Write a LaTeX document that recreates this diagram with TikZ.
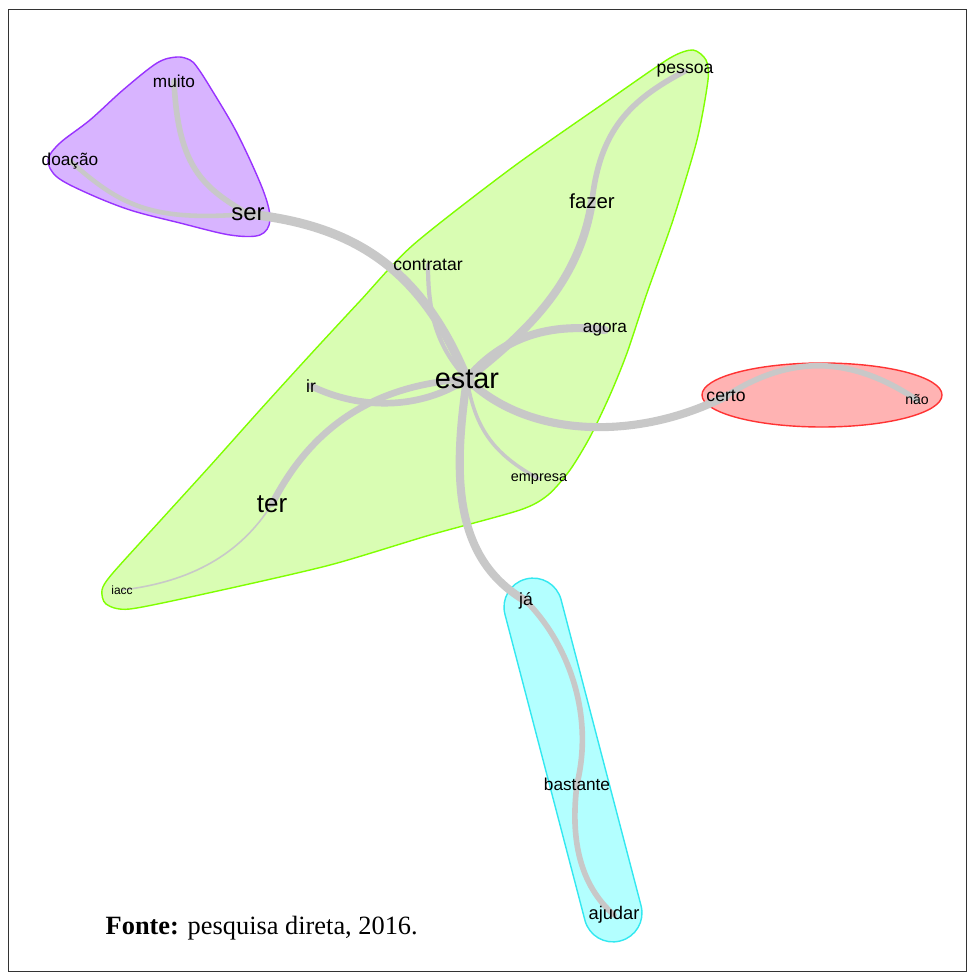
\documentclass[tikz,border=0pt]{standalone}
\usepackage{fontspec}
\setmainfont{Liberation Sans}
\newfontfamily\capfont{Liberation Serif}
\usepackage{tikz}
\usetikzlibrary{calc}
\pgfdeclarelayer{hulls}
\pgfdeclarelayer{links}
\pgfsetlayers{hulls,links,main}
\definecolor{linkgray}{HTML}{C8C8C8}
\definecolor{purplefill}{HTML}{D8B4FF}
\definecolor{purpleline}{HTML}{9933FF}
\definecolor{greenfill}{HTML}{D9FDB3}
\definecolor{greenline}{HTML}{80FF00}
\definecolor{redfill}{HTML}{FFB3B3}
\definecolor{redline}{HTML}{FF3333}
\definecolor{cyanfill}{HTML}{B3FFFF}
\definecolor{cyanline}{HTML}{33E8F0}

\begin{document}
\begin{tikzpicture}[x=0.01cm, y=-0.01cm,
        word/.style={inner sep=0pt, font=\fontsize{#1}{#1}\selectfont},
        link/.style={draw=linkgray, line width=#1, line cap=round},
        hull/.style={fill=#1fill, draw=#1line, line width=0.4pt}]
        \useasboundingbox (0,0) rectangle (968,973);
        \draw[line width=0.4pt, black!80] (8.5,9.5) rectangle (966.5,971.5);

        \node[word=4.9] (muito) at (174,81) {muito};
        \node[word=4.9] (doacao) at (70,161) {doação};
        \node[word=6.8] (ser) at (248,214) {ser};
        \node[word=5] (contratar) at (428,265) {contratar};
        \node[word=5] (pessoa) at (685,71) {pessoa};
        \node[word=5.8] (fazer) at (592,201) {fazer};
        \node[word=4.9] (agora) at (605,330) {agora};
        \node[word=8.2] (estar) at (467,379) {estar};
        \node[word=5] (ir) at (311,386) {ir};
        \node[word=5] (certo) at (726,396) {certo};
        \node[word=4] (nao) at (917,400) {não};
        \node[word=4.1] (empresa) at (539,479) {empresa};
        \node[word=7.4] (ter) at (272,504) {ter};
        \node[word=3.4] (iacc) at (122,590) {iacc};
        \node[word=5] (ja) at (526,601) {já};
        \node[word=4.9] (bastante) at (577,784) {bastante};
        \node[word=5.2] (ajudar) at (614,915) {ajudar};
        \node[anchor=west, inner sep=0pt, font=\capfont\fontsize{7.5}{9}\selectfont] (fonte) at (105,928) {\textbf{Fonte:} pesquisa direta, 2016.};

        \begin{pgfonlayer}{hulls}
        \draw[hull=purple] plot[smooth cycle, tension=0.55] coordinates {(190,60) (177,57) (157,63) (123,90) (90,120) (60,143) (48,160) (57,177) (87,193) (130,210) (180,223) (230,235) (260,235) (270,220) (263,190) (237,133) (210,87) (197,67)};
        \draw[hull=green] plot[smooth cycle, tension=0.45] coordinates {(670,58) (693,50) (706,60) (708,80) (697,140) (673,220) (647,293) (627,353) (610,395) (590,437) (570,470) (548,495) (520,510) (430,535) (330,565) (213,592) (130,609) (106,604) (102,590) (112,574) (160,521) (210,466) (260,410) (310,355) (360,301) (413,245) (513,167) (613,97)};
        \draw[hull=red] (822,395) ellipse [x radius=120, y radius=32];
        \begin{scope}[shift={(573,760)}, rotate=14.65]
                \draw[hull=cyan, rounded corners=8.2pt] (-29,-187) rectangle (29,187);
        \end{scope}
        \end{pgfonlayer}

        \begin{pgfonlayer}{links}
        \draw[link=1.6pt] (muito.center) .. controls (178,170) and (205,188) .. (ser.center);
        \draw[link=1.3pt] (doacao.center) .. controls (120,205) and (150,222) .. (ser.center);
        \draw[link=2.6pt] (ser.center) .. controls (350,225) and (420,265) .. (estar.center);
        \draw[link=1.2pt] (contratar.center) .. controls (428,310) and (435,345) .. (estar.center);
        \draw[link=1.6pt] (pessoa.center) .. controls (630,100) and (600,130) .. (fazer.center);
        \draw[link=2.3pt] (fazer.center) .. controls (580,280) and (530,330) .. (estar.center);
        \draw[link=2.3pt] (agora.center) .. controls (545,322) and (500,340) .. (estar.center);
        \draw[link=1.9pt] (ir.center) .. controls (360,410) and (420,410) .. (estar.center);
        \draw[link=1.9pt] (ter.center) .. controls (310,430) and (370,385) .. (estar.center);
        \draw[link=0.45pt] (ter.center) .. controls (240,555) and (190,582) .. (iacc.center);
        \draw[link=2.3pt] (estar.center) .. controls (530,440) and (640,440) .. (certo.center);
        \draw[link=1.6pt] (certo.center) .. controls (790,355) and (850,355) .. (nao.center);
        \draw[link=1pt] (estar.center) .. controls (475,430) and (495,455) .. (empresa.center);
        \draw[link=2.3pt] (estar.center) .. controls (452,480) and (455,560) .. (ja.center);
        \draw[link=1.6pt] (ja.center) .. controls (565,640) and (595,710) .. (bastante.center);
        \draw[link=1.6pt] (bastante.center) .. controls (570,840) and (580,885) .. (ajudar.center);
        \end{pgfonlayer}
\end{tikzpicture}
\end{document}
